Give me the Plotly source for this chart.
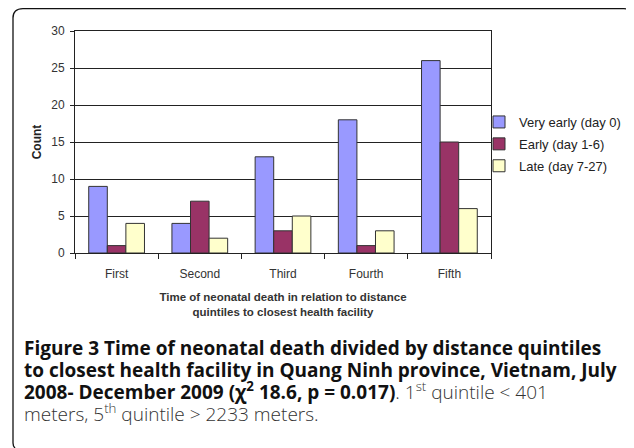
import plotly.graph_objects as go

categories = ["First", "Second", "Third", "Fourth", "Fifth"]
series_names = ["Very early (day 0)", "Early (day 1-6)", "Late (day 7-27)"]
very_early = [9, 4, 13, 18, 26]
early = [1, 7, 3, 1, 15]
late = [4, 2, 5, 3, 6]
series_values = [very_early, early, late]
colors = ["#9999FF", "#993366", "#FFFFCC"]
y_ticks = [0, 5, 10, 15, 20, 25, 30]
x_title = "Time of neonatal death in relation to distance<br>quintiles to closest health facility"
y_title = "Count"
caption_lines = [
    "<b>Figure 3 Time of neonatal death divided by distance quintiles</b>",
    "<b>to closest health facility in Quang Ninh province, Vietnam, July</b>",
    "<b>2008- December 2009 (χ<sup>2</sup> 18.6, p = 0.017)</b>"
    "<span style='color:#333333'>. 1<sup>st</sup> quintile &lt; 401</span>",
    "<span style='color:#333333'>meters, 5<sup>th</sup> quintile &gt; 2233 meters.</span>",
]

# The page body adds an 8px offset; layout is expressed in reference pixels.
OFF = 8
W, H = 634 - OFF, 448 - OFF
L, R, T, B = 75, 491, 31, 253   # plot area in reference pixels

def px(x):
    return (x - L) / (R - L)

def py(y):
    return (B - y) / (B - T)

fig = go.Figure()
for name, vals, col in zip(series_names, series_values, colors):
    fig.add_trace(go.Bar(
        x=categories, y=vals, name=name, legendgroup=name,
        marker=dict(color=col, line=dict(color="#333333", width=1)),
    ))

fig.update_layout(
    width=W, height=H,
    margin=dict(l=L - OFF, r=634 - R, t=T - OFF, b=448 - B, autoexpand=False),
    paper_bgcolor="white", plot_bgcolor="white",
    barmode="group", bargap=0.33, bargroupgap=0,
    font=dict(family="Arial, Liberation Sans", color="#222222", size=12),
    showlegend=True,
    legend=dict(x=px(479), y=py(107), xanchor="left", yanchor="top",
                font=dict(size=13, color="#222222"),
                bgcolor="rgba(0,0,0,0)", itemclick=False,
                tracegroupgap=2),
    xaxis=dict(
        showline=True, linecolor="#222222", linewidth=1, mirror=True,
        ticks="outside", ticklen=5, tickcolor="#222222", tickson="boundaries",
        tickfont=dict(size=12, color="#333333"), automargin=False,
        ticklabelstandoff=10,
        title=dict(text="<b>" + x_title + "</b>",
                   font=dict(size=11.5, color="#333333"), standoff=12),
    ),
    yaxis=dict(
        range=[0, 30], tickvals=y_ticks, automargin=False,
        showline=True, linecolor="#222222", linewidth=1, mirror=True,
        ticks="outside", ticklen=4, tickcolor="#222222",
        ticklabelstandoff=3,
        showgrid=True, gridcolor="#222222", gridwidth=1,
        tickfont=dict(size=12, color="#333333"),
        title=dict(text="<b>" + y_title + "</b>", font=dict(size=12, color="#222222"), standoff=7),
        zeroline=False,
    ),
)

# rounded frame around the figure (reference pixel coordinates)
frame_color = "#111111"
fig.add_shape(type="line", xref="paper", yref="paper",
              x0=px(13), x1=px(13), y0=py(443), y1=py(18),
              line=dict(color=frame_color, width=1.3))
fig.add_shape(type="line", xref="paper", yref="paper",
              x0=px(23), x1=px(624), y0=py(8.7), y1=py(8.7),
              line=dict(color=frame_color, width=1.3))
fig.add_shape(type="path", xref="paper", yref="paper",
              path=f"M{px(13)},{py(18)} Q{px(13)},{py(8.7)} {px(23)},{py(8.7)}",
              line=dict(color=frame_color, width=1.3))
fig.add_shape(type="path", xref="paper", yref="paper",
              path=f"M{px(624)},{py(8.7)} Q{px(630)},{py(8.7)} {px(634)},{py(13)}",
              line=dict(color=frame_color, width=1.3))
fig.add_shape(type="path", xref="paper", yref="paper",
              path=f"M{px(13)},{py(443)} Q{px(13)},{py(446)} {px(15)},{py(448)}",
              line=dict(color=frame_color, width=1.3))

line_y0, line_dy = 348, 21.7
for i, line in enumerate(caption_lines):
    fig.add_annotation(xref="paper", yref="paper", x=px(22), y=py(line_y0 + i * line_dy),
                       xanchor="left", yanchor="middle", align="left", showarrow=False,
                       text=line,
                       font=dict(family="Open Sans", size=19, color="#111111", weight=300))

fig.write_html("out.html")
